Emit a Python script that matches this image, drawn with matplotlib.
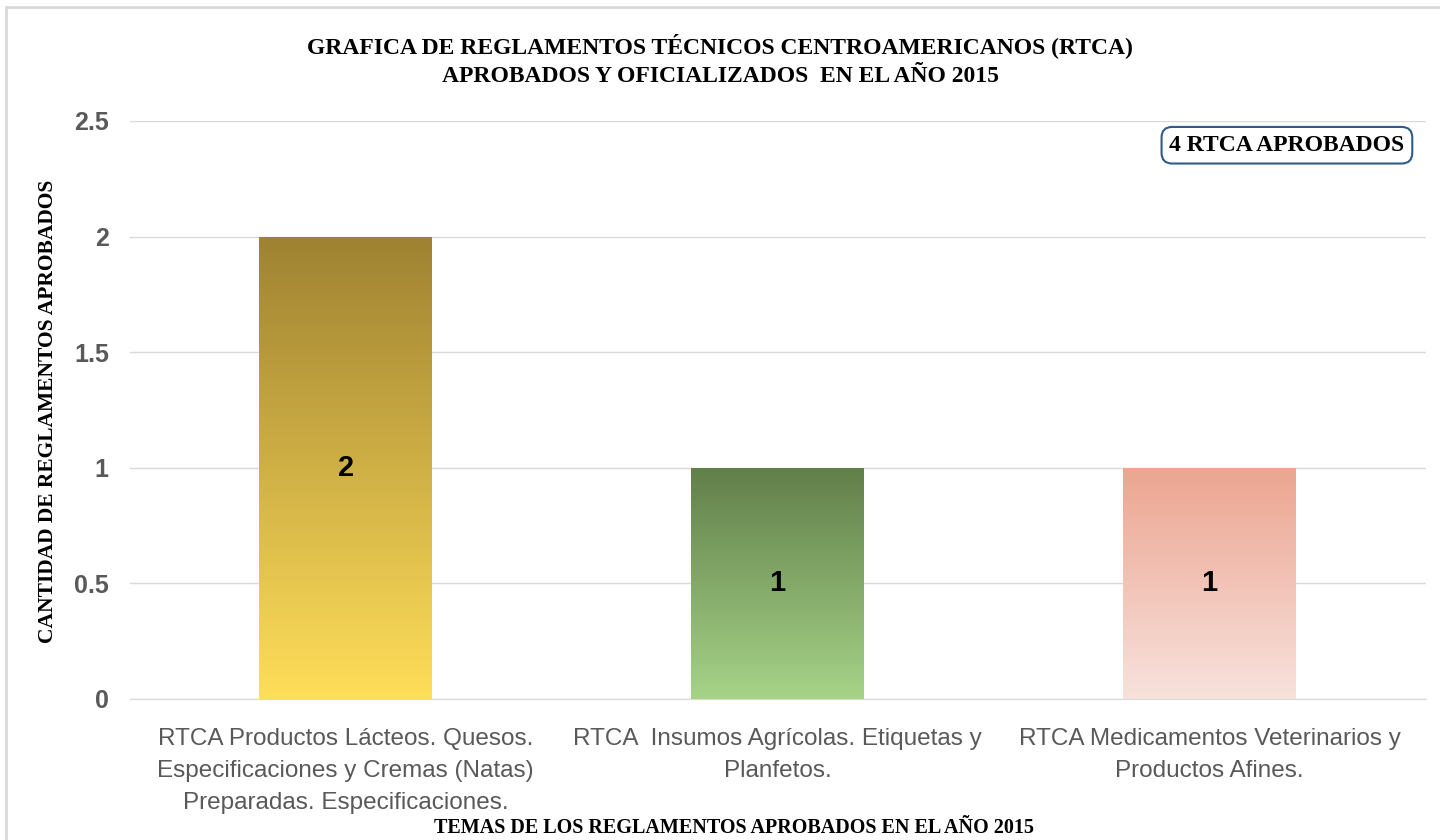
import matplotlib.pyplot as plt
import numpy as np
from matplotlib.colors import LinearSegmentedColormap
from matplotlib.patches import Rectangle

categories = [
    "RTCA Productos Lácteos. Quesos.\nEspecificaciones y Cremas (Natas)\nPreparadas. Especificaciones.",
    "RTCA  Insumos Agrícolas. Etiquetas y\nPlanfetos.",
    "RTCA Medicamentos Veterinarios y\nProductos Afines.",
]
values = [2, 1, 1]
# (top colour, bottom colour) of each bar's gradient
bar_colors = [("#9F8232", "#FFDE59"), ("#617F4A", "#A6D388"), ("#ECA590", "#F8E2DD")]
yticks = [0, 0.5, 1, 1.5, 2, 2.5]
ytick_labels = ["0", "0.5", "1", "1.5", "2", "2.5"]

serif = ["Liberation Serif", "DejaVu Serif"]
sans = ["Liberation Sans", "DejaVu Sans"]

fig = plt.figure(figsize=(14.4, 8.4), dpi=100)
ax = fig.add_axes([0.090, 0.168, 0.900, 0.688])

# outer chart frame
fig.patches.append(Rectangle((0.004, -0.1), 1.2, 1.092, transform=fig.transFigure,
                             fill=False, edgecolor="#D9D9D9", linewidth=2))

x = np.arange(len(values))
width = 0.40
bars = ax.bar(x, values, width=width, color="none", edgecolor="none", zorder=3)

for b, (top, bot) in zip(bars, bar_colors):
    cmap = LinearSegmentedColormap.from_list("g", [bot, top])
    grad = np.linspace(0, 1, 256).reshape(-1, 1)
    x0, y0 = b.get_x(), b.get_y()
    im = ax.imshow(grad, cmap=cmap, origin="lower", aspect="auto",
                   extent=[x0, x0 + b.get_width(), y0, y0 + b.get_height()], zorder=3)
    im.set_clip_path(b)
    ax.text(b.get_x() + b.get_width() / 2, b.get_height() / 2, str(int(b.get_height())),
            ha="center", va="center", fontsize=21, fontweight="bold", family=sans,
            color="black", zorder=4)

ax.set_xlim(-0.5, len(values) - 0.5)
ax.set_ylim(0, 2.5)
ax.set_yticks(yticks)
ax.set_yticklabels(ytick_labels, fontsize=18, fontweight="bold", color="#595959", family=sans)
ax.set_xticks(x)
ax.set_xticklabels(categories, fontsize=17.5, color="#595959", family=sans, linespacing=1.6)
ax.tick_params(axis="x", length=0, pad=21)
ax.tick_params(axis="y", length=0, pad=15)
ax.grid(axis="y", color="#D9D9D9", linewidth=1, zorder=0)
for s in ["top", "right", "left"]:
    ax.spines[s].set_visible(False)
ax.spines["bottom"].set_color("#D9D9D9")

fig.text(0.5, 0.929, "GRAFICA DE REGLAMENTOS TÉCNICOS CENTROAMERICANOS (RTCA)\n"
         "APROBADOS Y OFICIALIZADOS  EN EL AÑO 2015",
         ha="center", va="center", fontsize=17, fontweight="bold", family=serif,
         linespacing=1.5)
fig.text(0.51, 0.014, "TEMAS DE LOS REGLAMENTOS APROBADOS EN EL AÑO 2015",
         ha="center", va="center", fontsize=14.5, fontweight="bold", family=serif)
fig.text(0.033, 0.51, "CANTIDAD DE REGLAMENTOS APROBADOS", rotation=90,
         ha="center", va="center", fontsize=15.5, fontweight="bold", family=serif)

ax.text(0.893, 0.958, "4 RTCA APROBADOS", transform=ax.transAxes, ha="center", va="center",
        fontsize=17, fontweight="bold", family=serif, zorder=5,
        bbox=dict(boxstyle="round,pad=0.33,rounding_size=0.45", fc="white",
                  ec="#2F5A8A", lw=1.5))

fig.savefig("out.png", dpi=100)
